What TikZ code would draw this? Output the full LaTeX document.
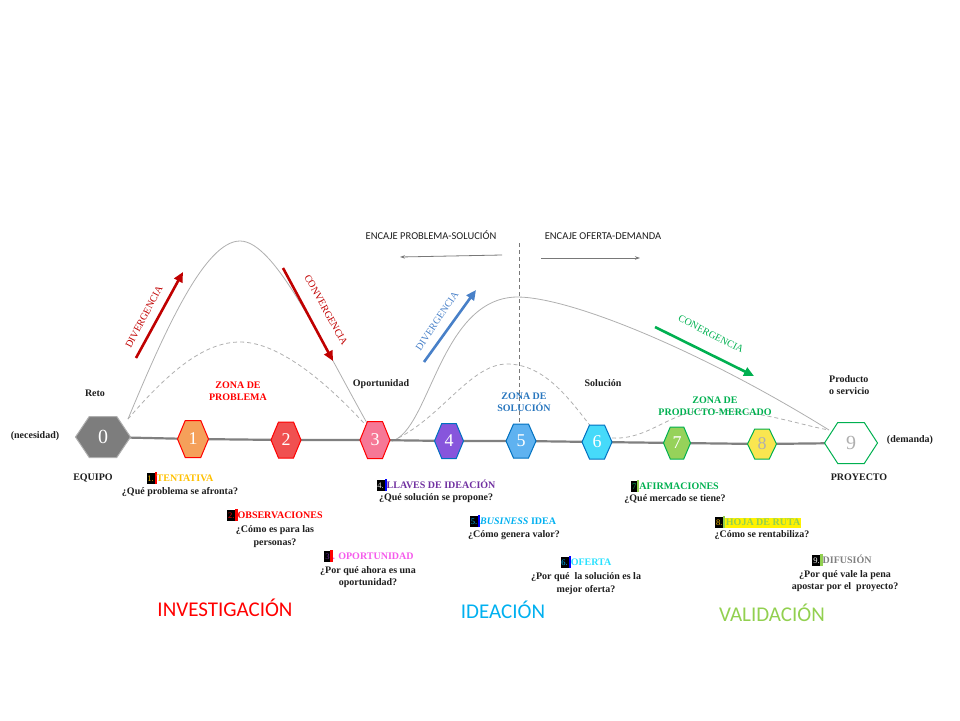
\documentclass[tikz,border=0pt]{standalone}
\usepackage{fontspec}
\setmainfont{Liberation Serif}
\newfontfamily\calib{Carlito}
\usetikzlibrary{arrows.meta}
\definecolor{curvegray}{RGB}{175,175,175}
\definecolor{maingray}{RGB}{128,128,128}
\definecolor{arrgray}{RGB}{120,120,120}
\definecolor{txtdark}{RGB}{30,30,30}
\definecolor{darkred}{RGB}{192,0,0}
\definecolor{pred}{RGB}{255,0,0}
\definecolor{sblue}{RGB}{40,118,190}
\definecolor{arrblue}{RGB}{72,128,200}
\definecolor{mgreen}{RGB}{0,176,80}
\definecolor{lgreen}{RGB}{146,208,80}
\definecolor{gold}{RGB}{255,192,0}
\definecolor{purp}{RGB}{112,48,160}
\definecolor{pinkm}{RGB}{245,90,235}
\definecolor{lblue}{RGB}{0,176,240}
\definecolor{cyanb}{RGB}{40,225,255}
\definecolor{hblue}{RGB}{0,112,192}
\definecolor{hgreen}{RGB}{0,176,80}
\definecolor{f0}{RGB}{125,125,125}
\definecolor{f1}{RGB}{245,160,90}
\definecolor{f2}{RGB}{240,80,80}
\definecolor{f3}{RGB}{246,120,150}
\definecolor{f4}{RGB}{135,85,220}
\definecolor{f5}{RGB}{95,178,240}
\definecolor{f6}{RGB}{70,218,250}
\definecolor{f7}{RGB}{150,210,90}
\definecolor{f8}{RGB}{250,230,80}
\newcommand\hexg[5]{%
  \path[#5] (#1-#3/2,#2) -- (#1-#3/4,#2-#4/2) -- (#1+#3/4,#2-#4/2) -- (#1+#3/2,#2) -- (#1+#3/4,#2+#4/2) -- (#1-#3/4,#2+#4/2) -- cycle;}
\newcommand\nbox[3]{{\fboxsep=0.8pt\colorbox{black}{\rule[-1.5pt]{0pt}{9pt}\textcolor{#2}{\fontsize{8.5}{9}\selectfont\mdseries #1}}}\textcolor{#3}{\rule[-2.3pt]{2.2pt}{12.1pt}}}
\begin{document}
\begin{tikzpicture}[x=1pt,y=-1pt,
  curve/.style={draw=curvegray, line width=0.8pt},
  dcurve/.style={draw=curvegray, line width=0.8pt, dash pattern=on 4pt off 3pt},
  mainline/.style={draw=maingray, line width=2.2pt},
  lbl/.style={font=\fontsize{10}{12.5}\selectfont\bfseries, text=txtdark, inner sep=0pt},
  ques/.style={lbl, align=center},
  title/.style={font=\fontsize{10}{12}\selectfont\bfseries, inner sep=0pt},
  zone/.style={font=\fontsize{10}{12.5}\selectfont\bfseries, align=center, inner sep=0pt},
  rot/.style={font=\fontsize{10}{12}\selectfont, inner sep=0pt},
  big/.style={font=\calib\fontsize{21}{24}\selectfont, inner sep=0pt},
  encaje/.style={font=\calib\fontsize{10.5}{12}\selectfont, text=txtdark, inner sep=0pt},
  hexnum/.style={font=\fontsize{18}{18}\selectfont, text=white, inner sep=0pt},
  bigarrow/.style={line width=2.6pt, -{Triangle[length=10pt,width=9pt]}},
  thinarrow/.style={draw=arrgray, line width=0.8pt, -{Stealth[length=5pt,width=3.5pt]}}]
\path[use as bounding box] (0,0) rectangle (960,720);

% centres
\coordinate (h0) at (103,437);
\coordinate (h1) at (193,439);
\coordinate (h2) at (286,440);
\coordinate (h3) at (375,440);
\coordinate (h4) at (449,441);
\coordinate (h5) at (521,441);
\coordinate (h6) at (597,442);
\coordinate (h7) at (677,443);
\coordinate (h8) at (762,444);
\coordinate (h9) at (851,443);

% curve anchor points
\coordinate (s0) at (128,419);
\coordinate (p1) at (240,241);
\coordinate (e1) at (372,432);
\coordinate (d1) at (240,342);
\coordinate (s3) at (392,441);
\coordinate (p2) at (517,297);
\coordinate (e9) at (829,430);
\coordinate (d2) at (507,364);
\coordinate (e6) at (592,428);
\coordinate (s6) at (612,438);
\coordinate (d3) at (710,410);

% curves
\draw[curve] (s0) .. controls (165,330) and (205,241) .. (p1) .. controls (275,241) and (320,340) .. (e1);
\draw[dcurve] (s0) .. controls (170,370) and (205,342) .. (d1) .. controls (280,342) and (330,385) .. (e1);
\draw[curve] (s3) .. controls (430,430) and (440,298) .. (p2) .. controls (570,297) and (700,350) .. (e9);
\draw[dcurve] (s3) .. controls (440,420) and (470,364) .. (d2) .. controls (545,364) and (570,400) .. (e6);
\draw[dcurve] (s6) .. controls (650,440) and (670,410) .. (d3) .. controls (760,410) and (800,425) .. (e9);

% vertical dashed divider
\coordinate (vtop) at (519,243);
\coordinate (vbot) at (519,423);
\draw[dcurve, draw=arrgray] (vtop) -- (vbot);

% main line
\draw[mainline] (h0) -- (h1) -- (h2) -- (h3) -- (h4) -- (h5) -- (h6) -- (h7) -- (h8) -- (h9);

% hexagons
\hexg{103}{437}{55}{41}{fill=f0, draw=curvegray, line width=1pt}
\hexg{193}{439}{31}{37}{fill=f1, draw=pred, line width=1pt}
\hexg{286}{440}{30}{36}{fill=f2, draw=pred, line width=1pt}
\hexg{375}{440}{30}{37}{fill=f3, draw=pred, line width=1pt}
\hexg{449}{441}{29}{35}{fill=f4, draw=hblue, line width=1pt}
\hexg{521}{441}{30}{34}{fill=f5, draw=hblue, line width=1pt}
\hexg{597}{442}{30}{34}{fill=f6, draw=hblue, line width=1pt}
\hexg{677}{443}{27}{32}{fill=f7, draw=hgreen, line width=1pt}
\hexg{762}{444}{29}{30}{fill=f8, draw=hgreen, line width=1pt}
\hexg{851}{443}{53}{41}{fill=white, draw=hgreen, line width=1pt}

\node[hexnum, font=\fontsize{20}{20}\selectfont] (n0) at (h0) {0};
\node[hexnum] (n1) at (h1) {1};
\node[hexnum] (n2) at (h2) {2};
\node[hexnum] (n3) at (h3) {3};
\node[hexnum] (n4) at (h4) {4};
\node[hexnum] (n5) at (h5) {5};
\node[hexnum] (n6) at (h6) {6};
\node[hexnum] (n7) at (h7) {7};
\node[hexnum, text=curvegray] (n8) at (h8) {8};
\node[hexnum, font=\fontsize{20}{20}\selectfont, text=curvegray] (n9) at (h9) {9};

% top encaje labels and arrows
\node[encaje] (ep) at (431,235) {ENCAJE PROBLEMA-SOLUCIÓN};
\node[encaje] (eo) at (603,236) {ENCAJE OFERTA-DEMANDA};
\coordinate (la1) at (502,255); \coordinate (la2) at (400,257);
\coordinate (ra1) at (541,258); \coordinate (ra2) at (640,258);
\draw[thinarrow] (la1) -- (la2);
\draw[thinarrow] (ra1) -- (ra2);

% divergence / convergence arrows
\coordinate (rd1) at (136,358); \coordinate (rd2) at (183,272);
\draw[bigarrow, draw=darkred, fill=darkred] (rd1) -- (rd2);
\node[rot, text=darkred, rotate=62] (tdr) at (144,317) {DIVERGENCIA};
\coordinate (rc1) at (283,268); \coordinate (rc2) at (333,361);
\draw[bigarrow, draw=darkred, fill=darkred] (rc1) -- (rc2);
\node[rot, text=darkred, rotate=-61] (tcr) at (326,310) {CONVERGENCIA};
\coordinate (bd1) at (424,362); \coordinate (bd2) at (476,290);
\draw[bigarrow, draw=arrblue, fill=arrblue] (bd1) -- (bd2);
\node[rot, text=arrblue, rotate=56] (tdb) at (437,321) {DIVERGENCIA};
\coordinate (gc1) at (655,327); \coordinate (gc2) at (754,376);
\draw[bigarrow, draw=mgreen, fill=mgreen] (gc1) -- (gc2);
\node[rot, text=mgreen, rotate=-27] (tcg) at (711,334) {CONERGENCIA};

% small labels
\node[lbl] (reto) at (95,393) {Reto};
\node[lbl] (nec) at (35,436) {(necesidad)};
\node[lbl] (equipo) at (93,478) {EQUIPO};
\node[lbl] (oport) at (381,384) {Oportunidad};
\node[lbl] (sol) at (603,383) {Solución};
\node[lbl, align=left, anchor=west] (prod) at (829,385) {Producto\\o servicio};
\node[lbl] (dem) at (910,440) {(demanda)};
\node[lbl] (proy) at (859,477) {PROYECTO};

% zones
\node[zone, text=pred] (zp) at (238,391) {ZONA DE\\PROBLEMA};
\node[zone, text=sblue] (zs) at (524,402) {ZONA DE\\SOLUCIÓN};
\node[zone, text=mgreen] (zm) at (715,406) {ZONA DE\\PRODUCTO-MERCADO};

% step titles and questions
\node[title, text=gold] (t1) at (180,478) {\nbox{1.}{gold}{pred}TENTATIVA};
\node[ques] (q1) at (180,492) {¿Qué problema se afronta?};
\node[title, text=pred] (t2) at (275,515) {\nbox{2.}{pred}{pred}OBSERVACIONES};
\node[ques] (q2) at (275,536.5) {¿Cómo es para las\\personas?};
\node[title, text=pinkm] (t3) at (369,556) {\nbox{3}{purp}{pred}. OPORTUNIDAD};
\node[ques] (q3) at (368,577) {¿Por qué ahora es una\\oportunidad?};
\node[title, text=purp] (t4) at (436,485) {\nbox{4.}{white!80!gray}{blue}LLAVES DE IDEACIÓN};
\node[ques] (q4) at (436,498) {¿Qué solución se propone?};
\node[title, text=lblue] (t5) at (513,521) {\nbox{5.}{lblue}{blue}\textit{BUSINESS} IDEA};
\node[ques] (q5) at (514,535) {¿Cómo genera valor?};
\node[title, text=cyanb] (t6) at (586,562) {\nbox{6.}{lblue}{blue}OFERTA};
\node[ques] (q6) at (586,583.5) {¿Por qué \ la solución es la\\mejor oferta?};
\node[title, text=mgreen] (t7) at (675,486) {\nbox{7}{mgreen}{lgreen}AFIRMACIONES};
\node[ques] (q7) at (675,499) {¿Qué mercado se tiene?};
\node[title, text=lgreen] (t8) at (758,522) {\nbox{8.}{gold}{lgreen}{\fboxsep=0.5pt\colorbox{yellow}{\rule[-1.5pt]{0pt}{9pt}HOJA DE RUTA}}};
\node[ques] (q8) at (762,535) {¿Cómo se rentabiliza?};
\node[title, text=maingray] (t9) at (842,560) {\nbox{9.}{white}{lgreen}DIFUSIÓN};
\node[ques] (q9) at (845,581) {¿Por qué vale la pena\\apostar por el \ proyecto?};

% phase labels
\node[big, text=pred] (inv) at (225,608) {INVESTIGACIÓN};
\node[big, text=lblue] (ide) at (503,610) {IDEACIÓN};
\node[big, text=lgreen] (val) at (772,613) {VALIDACIÓN};
\end{tikzpicture}
\end{document}
